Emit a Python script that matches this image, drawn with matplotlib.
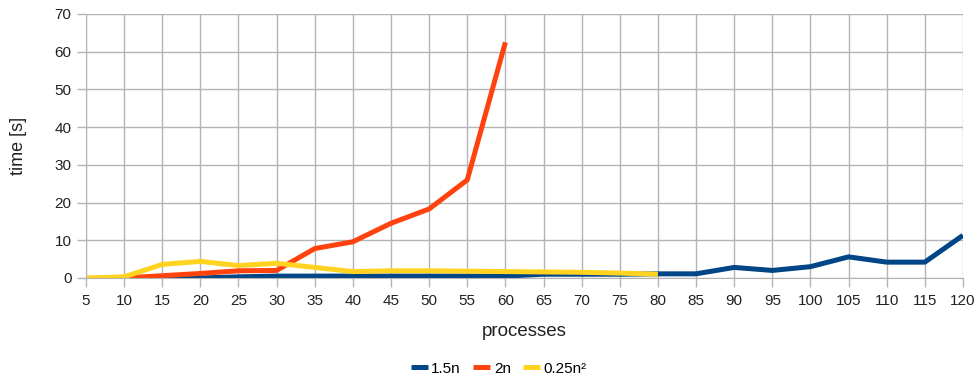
import matplotlib.pyplot as plt

plt.rcParams['font.family'] = ['Liberation Sans', 'DejaVu Sans']

# Measured run times per process count
x_blue = [10, 15, 20, 25, 30, 35, 40, 45, 50, 55, 60, 65, 70, 75, 80, 85, 90, 95, 100, 105, 110, 115, 120]
t_blue = [0, 0, 0, 0.3, 0.5, 0.5, 0.5, 0.5, 0.5, 0.5, 0.5, 1.0, 1.0, 1.0, 1.1, 1.1, 2.8, 2.0, 3.0, 5.6, 4.2, 4.2, 11.3]

x_orange = [10, 15, 20, 25, 30, 35, 40, 45, 50, 55, 60]
t_orange = [0, 0.6, 1.2, 1.9, 2.0, 7.8, 9.6, 14.5, 18.3, 26.0, 62.5]

x_yellow = [5, 10, 15, 20, 25, 30, 35, 40, 45, 50, 55, 60, 65, 70, 75, 80]
t_yellow = [0, 0.3, 3.6, 4.4, 3.3, 3.9, 2.8, 1.7, 1.9, 1.9, 1.8, 1.7, 1.6, 1.5, 1.3, 1.0]

labels = ['1.5n', '2n', '0.25n²']
colors = ['#004586', '#ff420e', '#ffd320']

fig = plt.figure(figsize=(9.78, 3.78), dpi=100)
ax = fig.add_axes([0.0879, 0.2646, 0.8967, 0.6984])

ax.plot(x_blue, t_blue, color=colors[0], lw=3.6, label=labels[0], solid_capstyle='butt')
ax.plot(x_orange, t_orange, color=colors[1], lw=3.6, label=labels[1], solid_capstyle='butt')
ax.plot(x_yellow, t_yellow, color=colors[2], lw=3.6, label=labels[2], solid_capstyle='butt')

ax.set_xlim(5, 120)
ax.set_ylim(0, 70)
ax.set_xticks(range(5, 121, 5))
ax.set_yticks(range(0, 71, 10))
ax.grid(True, color='#b3b3b3', lw=1)
ax.set_axisbelow(True)
for side in ['top', 'right']:
    ax.spines[side].set_visible(False)
for side in ['left', 'bottom']:
    ax.spines[side].set_color('#b3b3b3')
ax.tick_params(colors='#b3b3b3', labelcolor='#222222', labelsize=11, length=6.5, width=1)
ax.tick_params(axis='y', pad=4)
ax.tick_params(axis='x', pad=5)

ax.set_xlabel('processes', fontsize=13.5, color='#222222', labelpad=11)
ax.set_ylabel('time [s]', fontsize=13, color='#222222', labelpad=20)

fig.legend(loc='lower center', bbox_to_anchor=(0.51, -0.03), ncol=3, frameon=False,
           fontsize=11, handlelength=1.1, handletextpad=0.25, columnspacing=0.8)

fig.savefig('out.png', dpi=100)
